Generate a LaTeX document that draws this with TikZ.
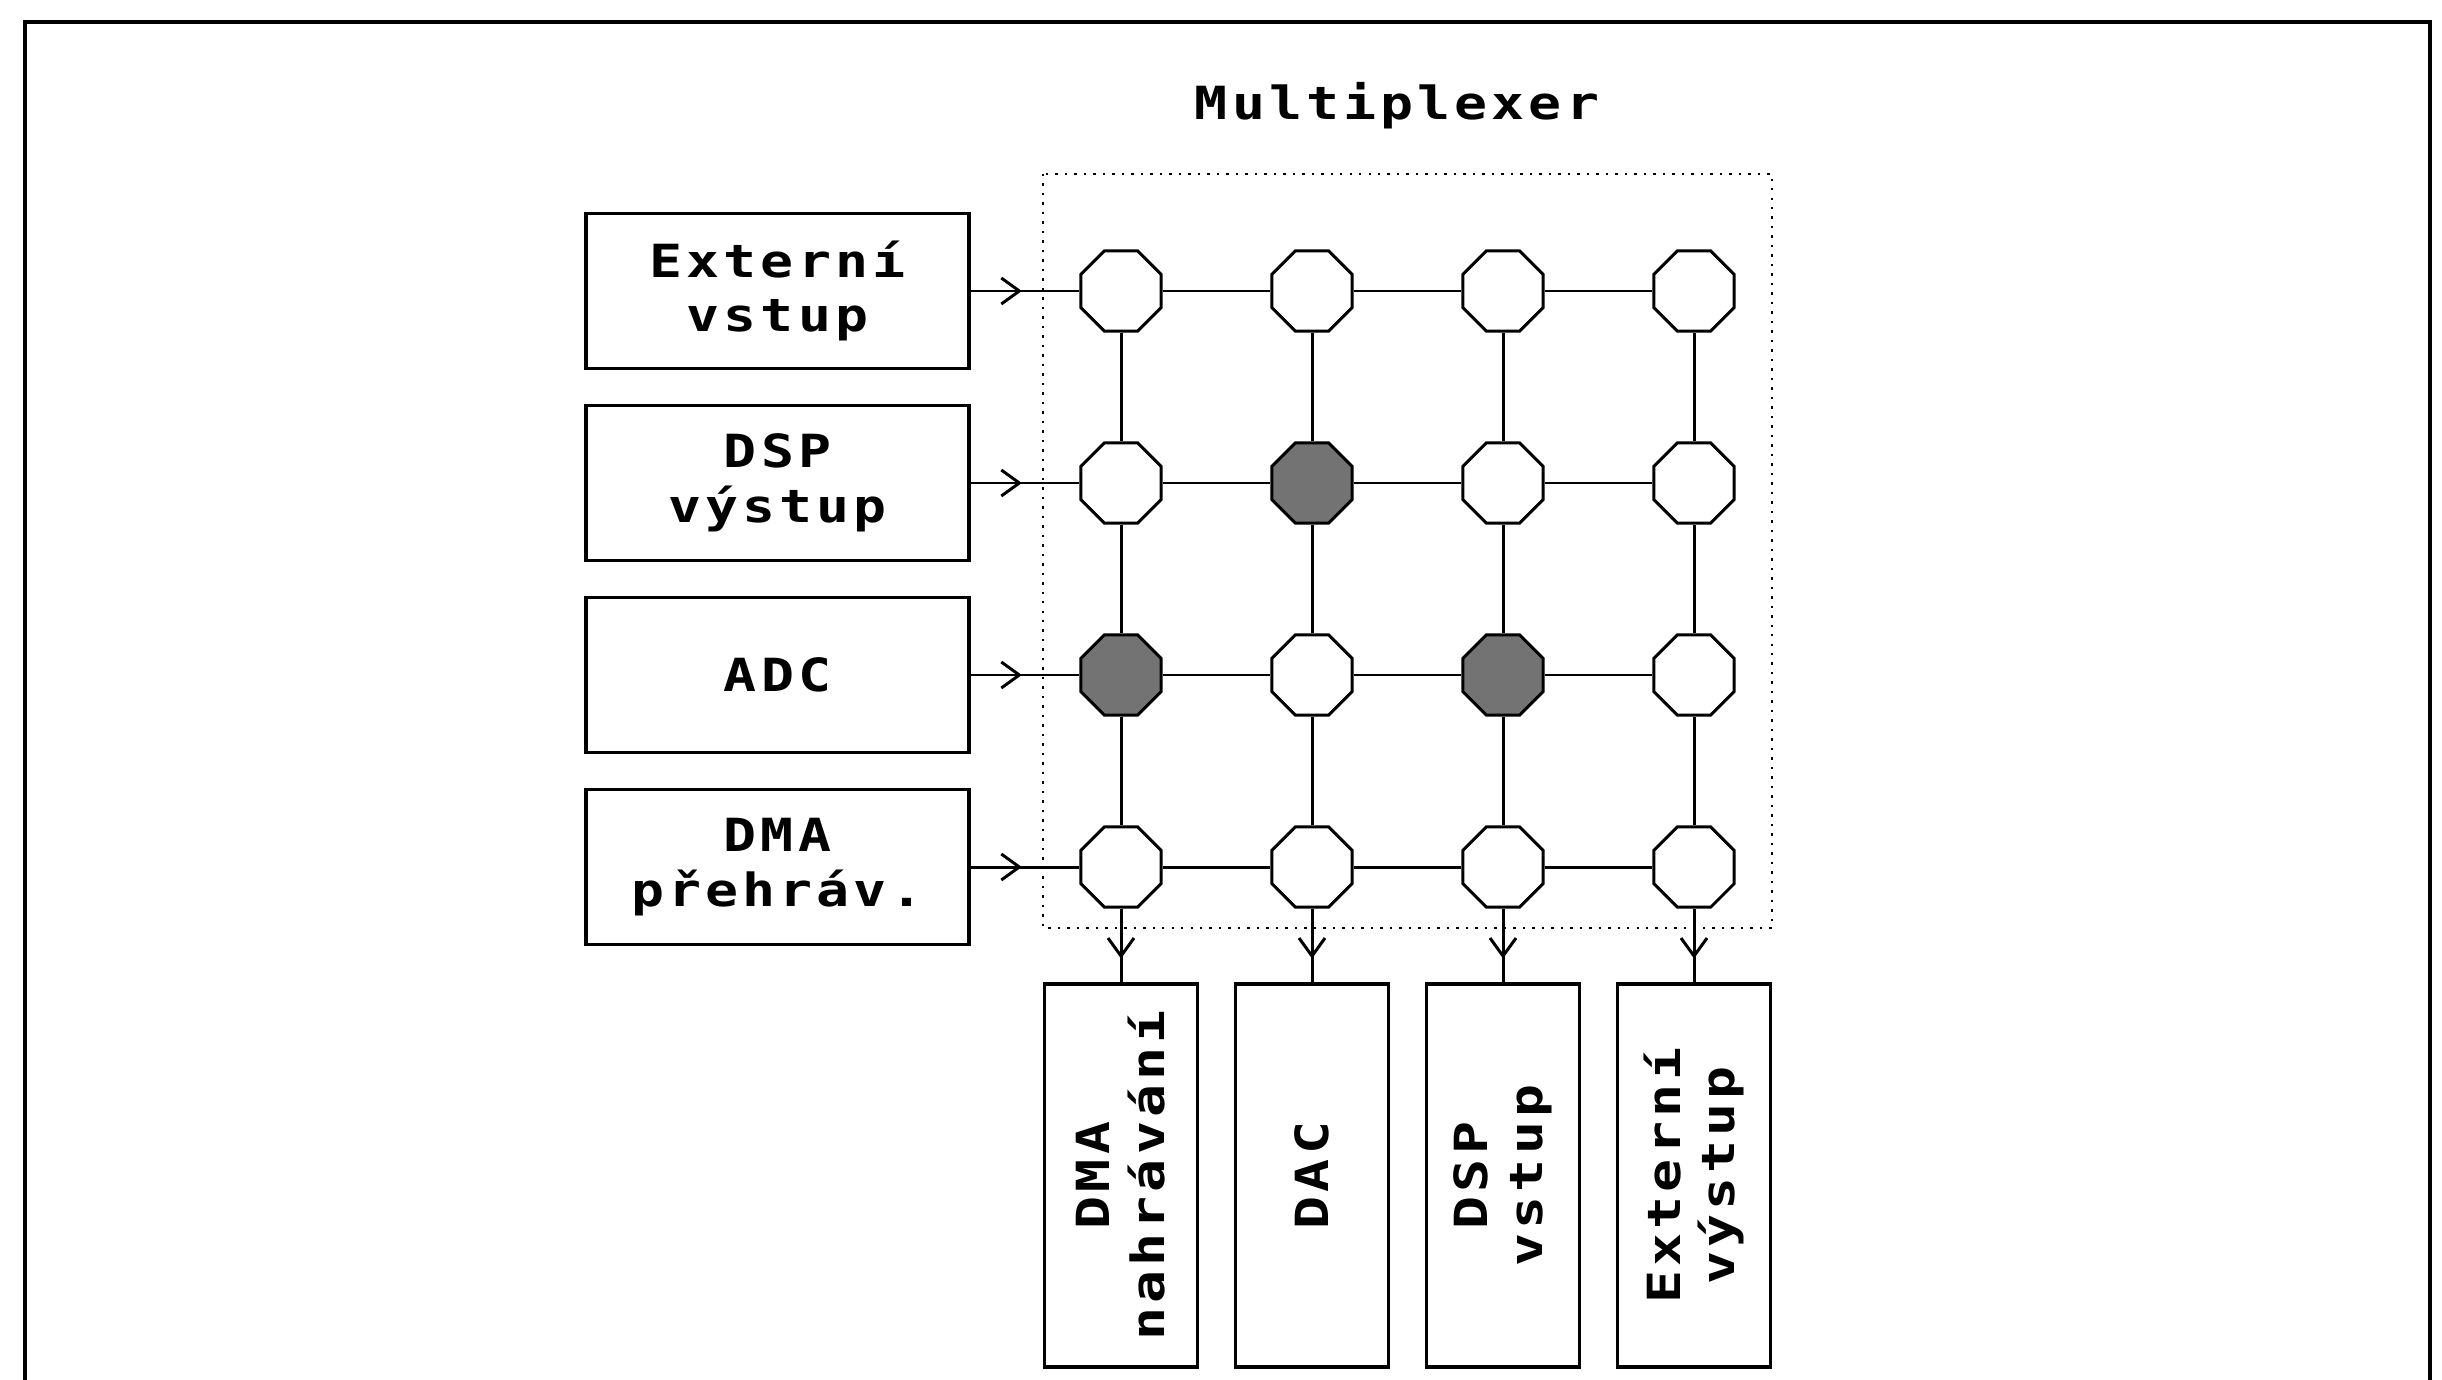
\documentclass[tikz,border=0pt]{standalone}
\usepackage{fontspec}
\usepackage{tikz}
\usetikzlibrary{arrows.meta,positioning,shapes,decorations.markings}
\newfontfamily\pixfont[FakeStretch=1.2,LetterSpace=9]{DejaVu Sans Mono}
\tikzset{font=\pixfont\bfseries\fontsize{13pt}{15.6pt}\selectfont}
\tikzset{every picture/.style={line width=0.85pt}}
\tikzstyle{blok}=[draw,line width=1.1pt,minimum width=3.83cm,minimum height=1.55cm,align=center,inner sep=0pt]
\tikzstyle{vblok}=[draw,line width=1.1pt,rotate=90,minimum width=3.83cm,minimum height=1.53cm,align=center,inner sep=0pt]
\tikzstyle{sw}=[draw,regular polygon,regular polygon sides=8,fill=white,minimum size=0.87cm,inner sep=0pt]
\tikzstyle{swon}=[sw,fill=black!55]
\tikzstyle{inarr}=[postaction={decorate},decoration={markings,mark=at position 0.47 with {\arrow{Straight Barb[length=1.8mm,width=2.6mm]}}}]
\tikzstyle{outarr}=[postaction={decorate},decoration={markings,mark=at position 0.68 with {\arrow{Straight Barb[length=1.8mm,width=2.6mm]}}}]

\begin{document}
\begin{tikzpicture}
\useasboundingbox (0,0) rectangle (24.42,-13.80);
\draw[line width=1.4pt] (0.25,-13.80) -- (0.25,-0.22) -- (24.30,-0.22) -- (24.30,-13.80);
\node (T) at (13.97,-1.06) {Multiplexer};
\draw[dotted,line width=0.7pt] (10.43,-1.74) rectangle (17.72,-9.28);
% vstupy
\node[blok] (I1) at (7.775,-2.91) {Externí\\vstup};
\node[blok] (I2) at (7.775,-4.83) {DSP\\výstup};
\node[blok] (I3) at (7.775,-6.75) {ADC};
\node[blok] (I4) at (7.775,-8.67) {DMA\\přehráv.};
% prepinace
\node[sw] (N11) at (11.21,-2.91) {};
\node[sw] (N12) at (13.12,-2.91) {};
\node[sw] (N13) at (15.03,-2.91) {};
\node[sw] (N14) at (16.94,-2.91) {};
\node[sw] (N21) at (11.21,-4.83) {};
\node[swon] (N22) at (13.12,-4.83) {};
\node[sw] (N23) at (15.03,-4.83) {};
\node[sw] (N24) at (16.94,-4.83) {};
\node[swon] (N31) at (11.21,-6.75) {};
\node[sw] (N32) at (13.12,-6.75) {};
\node[swon] (N33) at (15.03,-6.75) {};
\node[sw] (N34) at (16.94,-6.75) {};
\node[sw] (N41) at (11.21,-8.67) {};
\node[sw] (N42) at (13.12,-8.67) {};
\node[sw] (N43) at (15.03,-8.67) {};
\node[sw] (N44) at (16.94,-8.67) {};
% vystupy
\node[vblok] (O1) at (11.21,-11.755) {DMA\\nahrávání};
\node[vblok] (O2) at (13.12,-11.755) {DAC};
\node[vblok] (O3) at (15.03,-11.755) {DSP\\vstup};
\node[vblok] (O4) at (16.94,-11.755) {Externí\\výstup};
\path
(N11) edge (N12) (N12) edge (N13) (N13) edge (N14)
(N21) edge (N22) (N22) edge (N23) (N23) edge (N24)
(N31) edge (N32) (N32) edge (N33) (N33) edge (N34)
(N41) edge (N42) (N42) edge (N43) (N43) edge (N44)
(N11) edge (N21) (N21) edge (N31) (N31) edge (N41)
(N12) edge (N22) (N22) edge (N32) (N32) edge (N42)
(N13) edge (N23) (N23) edge (N33) (N33) edge (N43)
(N14) edge (N24) (N24) edge (N34) (N34) edge (N44);
\draw[inarr] (I1) -- (N11);
\draw[inarr] (I2) -- (N21);
\draw[inarr] (I3) -- (N31);
\draw[inarr] (I4) -- (N41);
\draw[outarr] (N41.south) -- (O1.east);
\draw[outarr] (N42.south) -- (O2.east);
\draw[outarr] (N43.south) -- (O3.east);
\draw[outarr] (N44.south) -- (O4.east);
\end{tikzpicture}
\end{document}
